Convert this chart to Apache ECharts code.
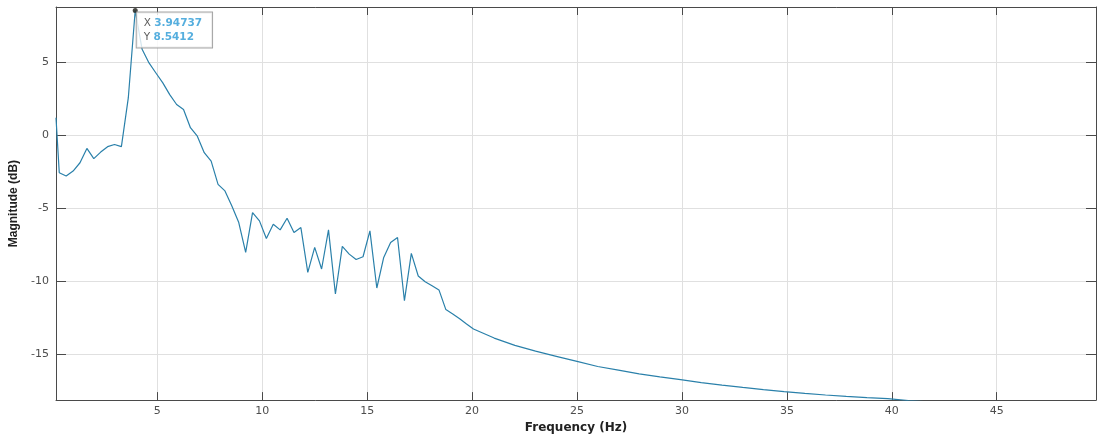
<!DOCTYPE html>
<html>
<head>
<meta charset="utf-8">
<script src="https://cdn.jsdelivr.net/npm/echarts@6/dist/echarts.min.js"></script>
<style>
html,body{margin:0;padding:0;background:#fff;}
#chart{width:1097px;height:439px;}
</style>
</head>
<body>
<div id="chart"></div>
<script>
// Frequency bins (Hz)
const freq = [
  0.173, 0.329, 0.658, 0.987, 1.316, 1.645, 1.974, 2.303, 2.632, 2.961,
  3.289, 3.618, 3.947, 4.276, 4.605, 4.934, 5.263, 5.592, 5.921, 6.250,
  6.579, 6.908, 7.237, 7.566, 7.895, 8.224, 8.553, 8.882, 9.211, 9.539,
  9.868, 10.197, 10.526, 10.855, 11.184, 11.513, 11.842, 12.171, 12.500, 12.829,
  13.158, 13.487, 13.816, 14.145, 14.474, 14.803, 15.132, 15.461, 15.789, 16.118,
  16.447, 16.776, 17.105, 17.434, 17.763, 18.092, 18.421, 18.750, 19.079, 19.408,
  19.737, 20.066, 21.053, 22.039, 23.026, 24.013, 25.000, 25.987, 26.974, 27.961,
  28.947, 29.934, 30.921, 31.908, 32.895, 33.882, 34.868, 35.855, 36.842, 37.829,
  38.816, 39.803, 40.789, 41.776, 42.763
];
// Magnitude (dB)
const magnitude = [
  1.19, -2.57, -2.80, -2.46, -1.89, -0.91, -1.61, -1.16, -0.79, -0.64,
  -0.79, 2.55, 8.5412, 5.88, 4.95, 4.26, 3.58, 2.78, 2.10, 1.76,
  0.51, -0.07, -1.20, -1.78, -3.37, -3.82, -4.85, -5.99, -8.03, -5.30,
  -5.87, -7.08, -6.10, -6.49, -5.69, -6.67, -6.33, -9.40, -7.69, -9.17,
  -6.49, -10.88, -7.62, -8.15, -8.52, -8.33, -6.56, -10.47, -8.38, -7.35,
  -7.01, -11.34, -8.10, -9.65, -10.04, -10.31, -10.60, -11.95, -12.25, -12.57,
  -12.93, -13.28, -13.90, -14.40, -14.80, -15.15, -15.50, -15.85, -16.10, -16.35,
  -16.56, -16.75, -16.95, -17.12, -17.28, -17.43, -17.57, -17.69, -17.80, -17.90,
  -17.98, -18.05, -18.18, -18.28, -18.36
];
// Data tip
const tipX = [3.94737];
const tipY = [8.5412];
// Tick labels
const xTicks = [5, 10, 15, 20, 25, 30, 35, 40, 45];
const yTicks = [-15, -10, -5, 0, 5];
const xName = 'Frequency (Hz)';
const yName = 'Magnitude (dB)';

const xMin = 0.173, xMax = 49.73, yMin = -18.15, yMax = 8.78;
const axisColor = '#4a4a4a';
const gridColor = '#e0e0e0';
const labelFont = 'DejaVu Sans';

const chart = echarts.init(document.getElementById('chart'), null, {renderer: 'canvas'});
const lineData = freq.map((f, i) => [f, magnitude[i]]);

chart.setOption({
  animation: false,
  backgroundColor: '#ffffff',
  grid: {left: 56, right: 1, top: 7, bottom: 38, containLabel: false},
  xAxis: [{
    type: 'value', min: xMin, max: xMax, position: 'bottom',
    name: xName, nameLocation: 'middle', nameGap: 21,
    nameTextStyle: {fontFamily: labelFont, fontWeight: 'bold', fontSize: 12, color: '#222'},
    axisLine: {show: true, onZero: false, lineStyle: {color: axisColor, width: 1}},
    axisTick: {show: true, inside: true, length: 8, customValues: xTicks, lineStyle: {color: axisColor}},
    axisLabel: {show: true, customValues: xTicks, margin: 6, fontFamily: labelFont, fontSize: 11, color: '#4d4d4d'},
    splitLine: {show: true, lineStyle: {color: gridColor, width: 1}}
  }, {
    type: 'value', min: xMin, max: xMax, position: 'top',
    axisLine: {show: true, onZero: false, lineStyle: {color: axisColor, width: 1}},
    axisTick: {show: true, inside: true, length: 8, customValues: xTicks, lineStyle: {color: axisColor}},
    axisLabel: {show: false},
    splitLine: {show: false}
  }],
  yAxis: [{
    type: 'value', min: yMin, max: yMax, position: 'left',
    name: yName, nameLocation: 'middle', nameGap: 33, nameRotate: 90,
    nameTextStyle: {fontFamily: 'Liberation Sans', fontWeight: 'bold', fontSize: 12, color: '#222'},
    axisLine: {show: true, onZero: false, lineStyle: {color: axisColor, width: 1}},
    axisTick: {show: true, inside: true, length: 10, customValues: yTicks, lineStyle: {color: axisColor}},
    axisLabel: {show: true, customValues: yTicks, margin: 7, fontFamily: labelFont, fontSize: 11, color: '#4d4d4d'},
    splitLine: {show: true, lineStyle: {color: gridColor, width: 1}}
  }, {
    type: 'value', min: yMin, max: yMax, position: 'right',
    axisLine: {show: true, onZero: false, lineStyle: {color: axisColor, width: 1}},
    axisTick: {show: true, inside: true, length: 10, customValues: yTicks, lineStyle: {color: axisColor}},
    axisLabel: {show: false},
    splitLine: {show: false}
  }],
  series: [{
    type: 'line',
    xAxisIndex: 0, yAxisIndex: 0,
    data: lineData,
    showSymbol: false,
    symbol: 'none',
    clip: true,
    lineStyle: {color: '#2a80aa', width: 1.2},
    z: 3
  }, {
    type: 'scatter',
    xAxisIndex: 0, yAxisIndex: 0,
    data: [[tipX[0], tipY[0]]],
    symbol: 'circle',
    symbolSize: 5,
    itemStyle: {color: '#1a1a14'},
    z: 6,
    label: {
      show: true,
      position: [4, 4.5],
      formatter: () => '{k|X} {v|' + tipX[0] + '}\n{k|Y} {v|' + tipY[0] + '}',
      backgroundColor: '#ffffff',
      borderColor: '#8f8f8f',
      borderWidth: 1,
      padding: [4, 10, 3, 7],
      rich: {
        k: {fontFamily: labelFont, fontSize: 10.5, color: '#333', lineHeight: 14, textShadowBlur: 0},
        v: {fontFamily: labelFont, fontSize: 10.5, fontWeight: 'bold', color: '#2a9ad6', lineHeight: 14, textShadowBlur: 0}
      }
    }
  }]
});
</script>
</body>
</html>
